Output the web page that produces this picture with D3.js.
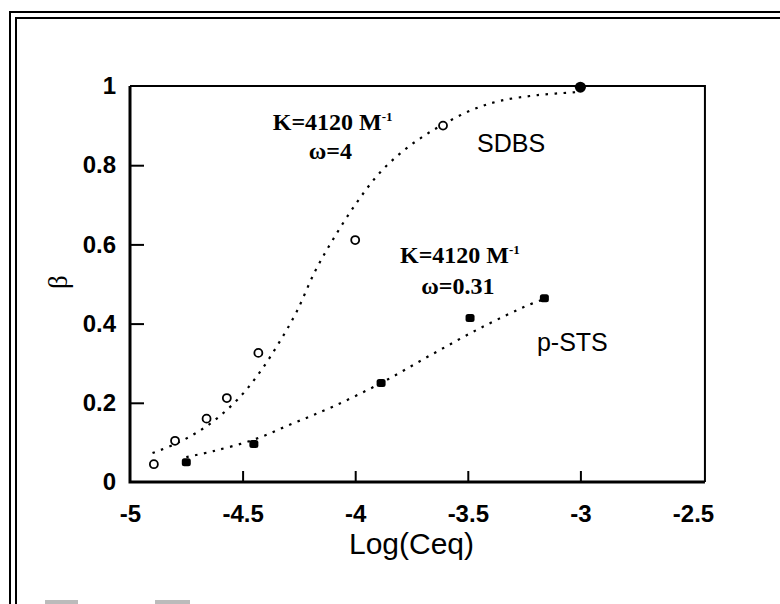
<!DOCTYPE html>
<html>
<head>
<meta charset="utf-8">
<script src="https://cdn.jsdelivr.net/npm/d3@7"></script>
<style>
  body { margin: 0; background: #fff; }
  svg { display: block; }
</style>
</head>
<body>
<div id="chart"></div>
<script>
// Data
var xTicks = [-5, -4.5, -4, -3.5, -3, -2.5];
var yTicks = [0, 0.2, 0.4, 0.6, 0.8, 1];

// SDBS measured points (open circles)
var sdbsX = [-4.894, -4.80, -4.66, -4.57, -4.43, -4.0, -3.61];
var sdbsY = [0.045, 0.104, 0.16, 0.212, 0.326, 0.611, 0.90];
// last SDBS point drawn filled
var sdbsEndX = [-3.0];
var sdbsEndY = [0.997];

// p-STS measured points (filled)
var pstsX = [-4.75, -4.45, -3.885, -3.49, -3.16];
var pstsY = [0.05, 0.096, 0.25, 0.414, 0.464];

// fitted curves
var sdbsFitX = [-4.90, -4.80, -4.70, -4.60, -4.50, -4.42, -4.34, -4.26, -4.18, -4.10, -4.00, -3.90, -3.80, -3.70, -3.60, -3.48, -3.36, -3.19, -3.0];
var sdbsFitY = [0.073, 0.096, 0.126, 0.167, 0.222, 0.28, 0.35, 0.43, 0.53, 0.611, 0.70, 0.775, 0.83, 0.872, 0.906, 0.94, 0.962, 0.977, 0.985];
var pstsFitX = [-4.75, -4.63, -4.455, -4.28, -4.10, -3.885, -3.66, -3.44, -3.23, -3.17];
var pstsFitY = [0.063, 0.078, 0.106, 0.147, 0.19, 0.25, 0.322, 0.39, 0.447, 0.46];

// Chart area
var width = 780, height = 604;

var svg = d3.select("#chart")
    .append("svg")
        .attr("width", width)
        .attr("height", height);

svg.append("rect")
    .attr("width", width)
    .attr("height", height)
    .attr("fill", "#fff");

// double page border, top and left (scanned page)
svg.append("path")
    .attr("d", "M10,604 V12 H780 M16,604 V18 H780")
    .attr("fill", "none")
    .attr("stroke", "#000")
    .attr("stroke-width", 2);

// grey marks at the bottom edge of the scan
svg.selectAll(".scrap")
    .data([[45, 33], [155, 35]])
    .enter()
    .append("rect")
    .attr("x", function(d) { return d[0]; })
    .attr("y", 600)
    .attr("width", function(d) { return d[1]; })
    .attr("height", 4)
    .attr("fill", "#bbb");

// Scales
var x = d3.scaleLinear()
    .domain([-5, -2.5])
    .range([130, 693]);

var y = d3.scaleLinear()
    .domain([0, 1])
    .range([482, 86]);

var sans = "'Liberation Sans', Arial, sans-serif";
var serif = "'Liberation Serif', 'Times New Roman', serif";

// plain hyphen minus, as in the original
var fmt = function(d) { return String(d); };

// X axis, ticks pointing inward
var xAxis = svg.append("g")
    .attr("transform", "translate(0," + y(0) + ")")
    .call(d3.axisBottom(x)
        .tickValues(xTicks)
        .tickSizeInner(-11)
        .tickSizeOuter(0)
        .tickPadding(23)
        .tickFormat(fmt));

xAxis.select(".domain").remove();
xAxis.selectAll(".tick line")
    .attr("stroke", "#000")
    .attr("stroke-width", 2)
    .filter(function(d) { return d === -5 || d === -2.5; })
    .remove();
xAxis.selectAll(".tick text")
    .attr("fill", "#000")
    .style("font-family", sans)
    .style("font-size", "24px")
    .style("font-weight", "bold");

// Y axis, ticks pointing inward
var yAxis = svg.append("g")
    .attr("transform", "translate(" + x(-5) + ",0)")
    .call(d3.axisLeft(y)
        .tickValues(yTicks)
        .tickSizeInner(-14)
        .tickSizeOuter(0)
        .tickPadding(14)
        .tickFormat(fmt));

yAxis.select(".domain").remove();
yAxis.selectAll(".tick line")
    .attr("stroke", "#000")
    .attr("stroke-width", 2)
    .filter(function(d) { return d === 0 || d === 1; })
    .remove();
yAxis.selectAll(".tick text")
    .attr("fill", "#000")
    .style("font-family", sans)
    .style("font-size", "24px")
    .style("font-weight", "bold");

// plot frame: left & bottom heavier than top & right
var x0 = x(-5), x1 = x(-2.447), y0 = y(0), y1 = y(1);
svg.append("path")
    .attr("d", "M" + x0 + "," + y1 + " V" + y0 + " H" + x1)
    .attr("fill", "none")
    .attr("stroke", "#000")
    .attr("stroke-width", 3);
svg.append("path")
    .attr("d", "M" + x0 + "," + y1 + " H" + x1 + " V" + y0)
    .attr("fill", "none")
    .attr("stroke", "#000")
    .attr("stroke-width", 2);

// Axis titles
svg.append("text")
    .attr("x", x(-3.75))
    .attr("y", 554)
    .attr("text-anchor", "middle")
    .style("font-family", sans)
    .style("font-size", "30px")
    .text("Log(Ceq)");

svg.append("text")
    .attr("transform", "translate(67," + y(0.505) + ") rotate(-90)")
    .attr("text-anchor", "middle")
    .style("font-family", serif)
    .style("font-size", "27px")
    .text("β");

// Fitted curves (dotted)
var line = d3.line()
    .x(function(d) { return x(d[0]); })
    .y(function(d) { return y(d[1]); })
    .curve(d3.curveCatmullRom.alpha(0.5));

svg.append("path")
    .datum(d3.zip(sdbsFitX, sdbsFitY))
    .attr("d", line)
    .attr("fill", "none")
    .attr("stroke", "#000")
    .attr("stroke-width", 2.2)
    .attr("stroke-dasharray", "2.5,6.5");

svg.append("path")
    .datum(d3.zip(pstsFitX, pstsFitY))
    .attr("d", line)
    .attr("fill", "none")
    .attr("stroke", "#000")
    .attr("stroke-width", 2.2)
    .attr("stroke-dasharray", "2.5,6.5");

// SDBS open circles
svg.selectAll(".sdbs")
    .data(d3.zip(sdbsX, sdbsY))
    .enter()
    .append("circle")
    .attr("class", "sdbs")
    .attr("cx", function(d) { return x(d[0]); })
    .attr("cy", function(d) { return y(d[1]); })
    .attr("r", 4)
    .attr("fill", "#fff")
    .attr("stroke", "#000")
    .attr("stroke-width", 1.8);

svg.selectAll(".sdbsEnd")
    .data(d3.zip(sdbsEndX, sdbsEndY))
    .enter()
    .append("circle")
    .attr("class", "sdbsEnd")
    .attr("cx", function(d) { return x(d[0]); })
    .attr("cy", function(d) { return y(d[1]); })
    .attr("r", 5.5)
    .attr("fill", "#000");

// p-STS filled markers
svg.selectAll(".psts")
    .data(d3.zip(pstsX, pstsY))
    .enter()
    .append("rect")
    .attr("class", "psts")
    .attr("x", function(d) { return x(d[0]) - 4.5; })
    .attr("y", function(d) { return y(d[1]) - 4; })
    .attr("width", 9)
    .attr("height", 8)
    .attr("rx", 2.5)
    .attr("fill", "#000");

// Annotations
function kLabel(cx, by) {
    var t = svg.append("text")
        .attr("x", x(cx))
        .attr("y", y(by))
        .attr("text-anchor", "middle")
        .style("font-family", serif)
        .style("font-size", "24px")
        .style("font-weight", "bold");
    t.append("tspan").text("K=4120 M");
    t.append("tspan")
        .attr("dy", -9)
        .style("font-size", "13px")
        .text("-1");
}

function omegaLabel(cx, by, txt) {
    svg.append("text")
        .attr("x", x(cx))
        .attr("y", y(by))
        .attr("text-anchor", "middle")
        .style("font-family", serif)
        .style("font-size", "24px")
        .style("font-weight", "bold")
        .text(txt);
}

kLabel(-4.10, 0.889);
omegaLabel(-4.11, 0.816, "ω=4");
kLabel(-3.535, 0.553);
omegaLabel(-3.544, 0.476, "ω=0.31");

svg.append("text")
    .attr("x", x(-3.459))
    .attr("y", y(0.833))
    .style("font-family", sans)
    .style("font-size", "25px")
    .text("SDBS");

svg.append("text")
    .attr("x", x(-3.193))
    .attr("y", y(0.331))
    .style("font-family", sans)
    .style("font-size", "25px")
    .text("p-STS");
</script>
</body>
</html>
